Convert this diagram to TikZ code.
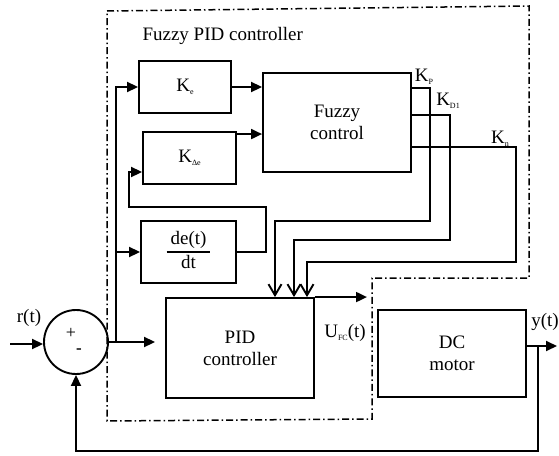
\documentclass[tikz,border=0pt]{standalone}
\usepackage{amsmath}
\usepackage{fontspec}
\setmainfont{Liberation Serif}
\usetikzlibrary{arrows.meta}
\newcommand{\lowidx}[1]{\raisebox{-0.35ex}{\fontsize{8}{8}\selectfont #1}}

\begin{document}
\begin{tikzpicture}[x=1pt,y=-1pt,font=\fontsize{19}{22}\selectfont]
\tikzstyle{box}=[draw,line width=1.9pt,align=center,inner sep=0pt]
\tikzstyle{arr}=[-{Triangle[length=11pt,width=10pt]},line width=1.9pt]
\tikzstyle{varr}=[-{Straight Barb[length=11pt,width=13pt]},line width=1.9pt]
\tikzstyle{fzbound}=[line width=1.5pt,dash pattern=on 7pt off 3pt on 1.5pt off 3pt]
\useasboundingbox (0,0) rectangle (559,455);

\draw[fzbound] (107,11) -- (529,6) -- (529,278) -- (372,278) -- (372,419) -- (107,421) -- cycle;
\node[anchor=west] (title) at (139,36) {Fuzzy PID controller};

\node[box,circle,minimum size=64pt] (sum) at (76,342) {};
\node[font=\fontsize{18}{18}\selectfont] (plus) at (71,333) {+};
\node[font=\fontsize{17}{17}\selectfont\bfseries] (minus) at (79,351) {-};
\node[box,minimum width=92pt,minimum height=52pt] (ke) at (185,87) {K\lowidx{e}};
\node[box,minimum width=93pt,minimum height=52pt] (kde) at (189.5,158) {K\lowidx{Δe}};
\node[draw,line width=1.9pt,inner sep=0pt,minimum width=95pt,minimum height=62pt] (ddt) at (188.5,252)
  {\setlength{\tabcolsep}{4pt}\setlength{\arrayrulewidth}{1.4pt}\begin{tabular}{c}de(t)\\\hline dt\end{tabular}};
\node[box,minimum width=148pt,minimum height=99pt] (fuzzy) at (337,122.5) {Fuzzy\\control};
\node[box,minimum width=148pt,minimum height=100pt] (pid) at (240,348) {PID\\controller};
\node[box,minimum width=148pt,minimum height=87pt] (motor) at (452,353.5) {DC\\motor};

\node (rlbl) at (29,318) {r(t)};
\node (ylbl) at (545,322) {y(t)};
\node (ulbl) at (345,333) {U\lowidx{FC}(t)};
\node (kp) at (424,77) {K\lowidx{P}};
\node (kd) at (448,101) {K\lowidx{D1}};
\node (kn) at (500,139) {K\lowidx{n}};

\coordinate (rin) at (10,344);
\coordinate (br) at (116,342);
\coordinate (kdeo) at ([yshift=-3pt]kde.north east);
\coordinate (uend) at (367,299);
\coordinate (yend) at (557,346);
\coordinate (fb) at (538,346);

\draw[arr] (rin) -- (rin -| sum.west);
\draw[arr,shorten >=10pt] (sum.east) -- (sum.east -| pid.west);
\draw[arr] (br) |- (ke.west);
\draw[arr] (br) |- (ddt.west);
\draw[arr] (ke.east) -- (ke.east -| fuzzy.west);
\draw[arr] (kdeo) -- (kdeo -| fuzzy.west);
\draw[arr] (ddt.east) -| (266,207) -| (129,172) -- (kde.west |- 0,172);

\draw[varr] (fuzzy.east |- 0,88) -| (430,221) -| (275,0 |- pid.north);
\draw[varr] (fuzzy.east |- 0,115) -| (450,240) -| (294,0 |- pid.north);
\draw[varr] (fuzzy.east |- 0,147) -| (516,262) -| (307,0 |- pid.north);

\draw[arr] (pid.north east) -- (uend |- pid.north east);
\draw[arr] (motor.east |- yend) -- (yend);
\draw[arr] (fb) |- (sum.south |- 0,451) -- (sum.south);
\end{tikzpicture}
\end{document}
